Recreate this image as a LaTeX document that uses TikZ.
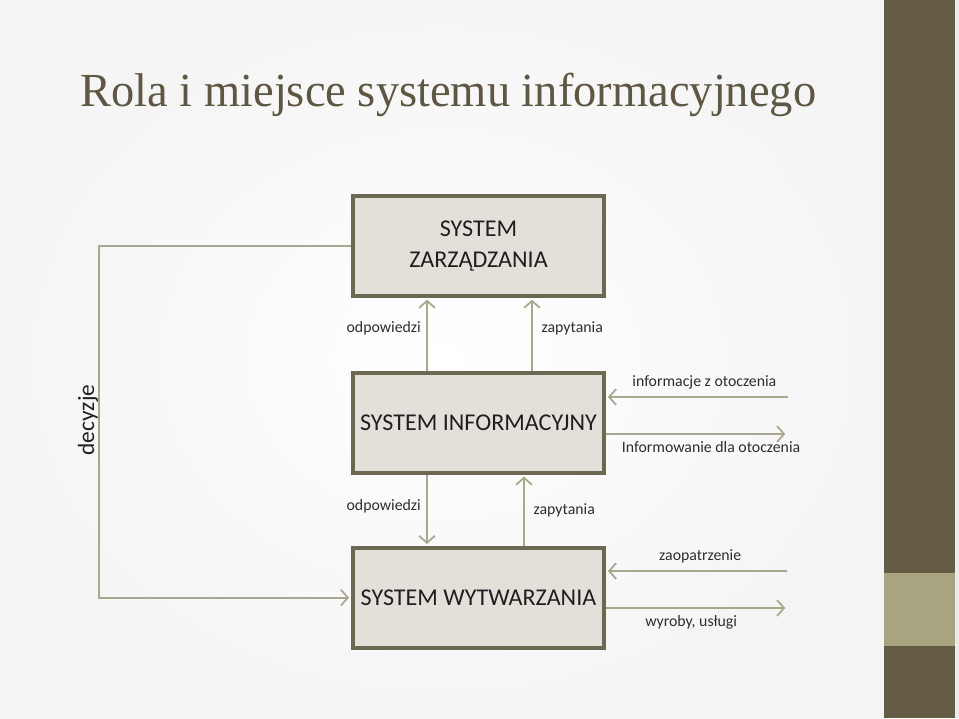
\documentclass[tikz,border=0pt]{standalone}
\usepackage{fontspec}
\setmainfont{Carlito}
\newfontfamily\titlefont{Liberation Serif}
\usepackage{tikz}
\usetikzlibrary{positioning,arrows.meta}

\definecolor{boxfill}{HTML}{E3E0DA}
\definecolor{boxline}{HTML}{6B6952}
\definecolor{flowline}{HTML}{A9A88E}
\definecolor{barbrown}{HTML}{655C45}
\definecolor{bartan}{HTML}{A8A47F}
\definecolor{titlebrown}{HTML}{5E5743}

\begin{document}
\begin{tikzpicture}[
  x=0.02cm, y=-0.02cm,
  sysbox/.style={draw=boxline, fill=boxfill, line width=2.2pt, minimum width=5.03cm,
                 minimum height=2.0cm, inner sep=0pt, align=center, text=black!88,
                 font=\fontsize{13.7}{18}\selectfont},
  arr/.style={-{Straight Barb[length=4pt,width=9pt]}, draw=flowline, line width=1pt,
              shorten >=1pt},
  lbl/.style={font=\fontsize{9}{11}\selectfont, text=black!82, inner sep=1pt}
]
% background and side bar
\useasboundingbox (0,0) rectangle (959,718);
\shade[inner color=white, outer color=black!4] (0,0) rectangle (884,718);
\fill[black!8] (955,0) rectangle (959,718);
\fill[barbrown] (884,0) rectangle (955,718);
\fill[bartan] (884,573) rectangle (955,646);

\node[anchor=base west, inner sep=0pt, text=titlebrown, xscale=0.98,
      font=\titlefont\fontsize{27}{32}\selectfont] (title) at (80,106)
  {Rola i miejsce systemu informacyjnego};

% the three systems
\node[sysbox] (zarz) at (478.5,246) {SYSTEM\\ZARZĄDZANIA};
\node[sysbox, below=1.46cm of zarz] (inf) {SYSTEM INFORMACYJNY};
\node[sysbox, below=1.42cm of inf] (wytw) {SYSTEM WYTWARZANIA};

\coordinate (leftcol) at (427,0);
\coordinate (rcolup) at (532,0);
\coordinate (rcoldn) at (524,0);

\draw[arr] (inf.north -| leftcol) -- node[lbl, left=2pt, pos=0.59] {odpowiedzi} (zarz.south -| leftcol);
\draw[arr] (inf.north -| rcolup) -- node[lbl, right=4pt, pos=0.58] {zapytania} (zarz.south -| rcolup);
\draw[arr] (inf.south -| leftcol) -- node[lbl, left=2pt, pos=0.44] {odpowiedzi} (wytw.north -| leftcol);
\draw[arr] (wytw.north -| rcoldn) -- node[lbl, right=4pt, pos=0.5] {zapytania} (inf.south -| rcoldn);

% decisions loop
\coordinate (dec) at (99,420);
\draw[arr] (zarz.west) -| (dec) |- (wytw.west);
\node[rotate=90, font=\fontsize{13.3}{16}\selectfont, text=black!88] (declbl) at (88,420) {decyzje};

% environment
\coordinate (infin) at (788,397);
\coordinate (infout) at (787,434);
\coordinate (zaop) at (787,571);
\coordinate (wyrob) at (787,608);
\draw[arr] (infin) -- node[lbl, above=3pt, pos=0.46] {informacje z otoczenia} (infin -| inf.east);
\draw[arr] (inf.east |- infout) -- node[lbl, below=3pt, pos=0.58] {Informowanie dla otoczenia} (infout);
\draw[arr] (zaop) -- node[lbl, above=3pt, pos=0.48] {zaopatrzenie} (zaop -| wytw.east);
\draw[arr] (wytw.east |- wyrob) -- node[lbl, below=3pt, pos=0.47] {wyroby, usługi} (wyrob);
\end{tikzpicture}
\end{document}
